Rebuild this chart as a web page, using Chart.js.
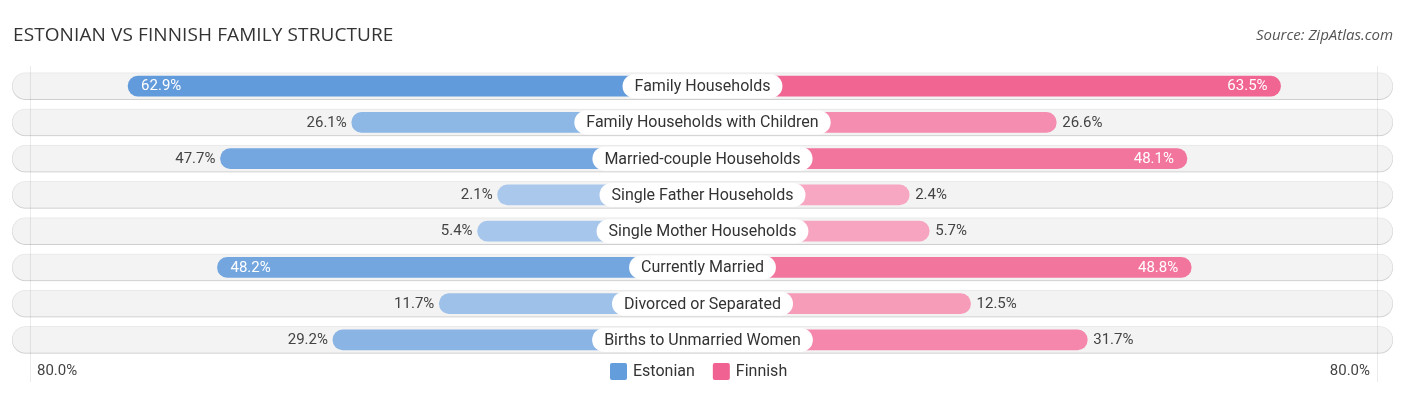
<!DOCTYPE html>
<html>
<head>
<meta charset="utf-8">
<script src="https://cdn.jsdelivr.net/npm/chart.js@4"></script>
<style>
  html, body { margin: 0; padding: 0; background: #fff; }
  #wrap { position: relative; width: 1406px; height: 395px; }
  #title { position: absolute; left: 13px; top: 21px; font: 19px "Open Sans", sans-serif; color: #333; letter-spacing: 0.1px; }
  #source { position: absolute; right: 13px; top: 24px; font: italic 15px "Open Sans", sans-serif; color: #555; }
  canvas { position: absolute; left: 0; top: 0; }
</style>
</head>
<body>
<div id="wrap">
  <canvas id="chart" width="1406" height="395"></canvas>
  <div id="title">ESTONIAN VS FINNISH FAMILY STRUCTURE</div>
  <div id="source">Source: ZipAtlas.com</div>
</div>
<script>
const categories = [
  'Family Households',
  'Family Households with Children',
  'Married-couple Households',
  'Single Father Households',
  'Single Mother Households',
  'Currently Married',
  'Divorced or Separated',
  'Births to Unmarried Women'
];
const estonian = [62.9, 26.1, 47.7, 2.1, 5.4, 48.2, 11.7, 29.2];
const finnish = [63.5, 26.6, 48.1, 2.4, 5.7, 48.8, 12.5, 31.7];
const axisMaxLabel = '80.0%';

// bars start behind the centre label, so every bar gets a fixed extra length
const offset = 31.6;
const range = 113.6;

function mix(a, b, t) {
  return 'rgb(' + a.map((c, i) => Math.round(c + (b[i] - c) * t)).join(',') + ')';
}
const blueLight = [172, 202, 236], blueStrong = [98, 155, 219];
const pinkLight = [247, 170, 195], pinkStrong = [241, 101, 147];
const estColors = estonian.map(v => mix(blueLight, blueStrong, Math.min(v / 63, 1)));
const finColors = finnish.map(v => mix(pinkLight, pinkStrong, Math.min(v / 63, 1)));

const trackShadow = {
  id: 'trackShadow',
  beforeDatasetDraw(chart, args) {
    if (args.index !== 0) return;
    const ctx = chart.ctx;
    ctx.save();
    ctx.shadowColor = 'rgba(0,0,0,0.22)';
    ctx.shadowBlur = 3;
    ctx.shadowOffsetY = 1;
  },
  afterDatasetDraw(chart, args) {
    if (args.index !== 0) return;
    chart.ctx.restore();
  }
};

const labelsPlugin = {
  id: 'labels',
  afterDatasetsDraw(chart) {
    const ctx = chart.ctx;
    const x = chart.scales.x;
    const y = chart.scales.y;
    const cx = x.getPixelForValue(0);
    ctx.save();

    // faint guide lines
    ctx.strokeStyle = 'rgba(0,0,0,0.08)';
    ctx.lineWidth = 1;
    [-(offset + 79), offset + 79.3].forEach(v => {
      const px = Math.round(x.getPixelForValue(v)) + 0.5;
      ctx.beginPath();
      ctx.moveTo(px, chart.chartArea.top - 2);
      ctx.lineTo(px, chart.chartArea.bottom + 24);
      ctx.stroke();
    });

    categories.forEach((cat, i) => {
      const py = y.getPixelForValue(i);

      // value labels
      ctx.font = '15px Roboto';
      ctx.textBaseline = 'middle';
      const e = estonian[i], f = finnish[i];
      const ex = x.getPixelForValue(-(offset + e));
      const fx = x.getPixelForValue(offset + f);
      if (e >= 48) {
        ctx.fillStyle = '#fff'; ctx.textAlign = 'left';
        ctx.fillText(e.toFixed(1) + '%', ex + 13, py + 0.5);
      } else {
        ctx.fillStyle = '#444'; ctx.textAlign = 'right';
        ctx.fillText(e.toFixed(1) + '%', ex - 5, py + 0.5);
      }
      if (f >= 48) {
        ctx.fillStyle = '#fff'; ctx.textAlign = 'right';
        ctx.fillText(f.toFixed(1) + '%', fx - 13, py + 0.5);
      } else {
        ctx.fillStyle = '#444'; ctx.textAlign = 'left';
        ctx.fillText(f.toFixed(1) + '%', fx + 6, py + 0.5);
      }

      // category pill
      ctx.font = '16px Roboto';
      const w = ctx.measureText(cat).width + 24;
      const h = 24;
      ctx.fillStyle = '#fff';
      ctx.beginPath();
      ctx.roundRect(cx - w / 2, py - h / 2, w, h, h / 2);
      ctx.fill();
      ctx.fillStyle = '#333';
      ctx.textAlign = 'center';
      ctx.fillText(cat, cx, py + 1);
    });

    // axis end labels
    const by = chart.chartArea.bottom + 13;
    ctx.font = '15px Roboto';
    ctx.fillStyle = '#444';
    ctx.textAlign = 'left';
    ctx.fillText(axisMaxLabel, 37, by);
    ctx.textAlign = 'right';
    ctx.fillText(axisMaxLabel, 1370, by);

    // legend
    const items = [['Estonian', 'rgb(99,157,220)'], ['Finnish', 'rgb(240,98,146)']];
    ctx.font = '16px Roboto';
    let lx = 610;
    items.forEach(([name, col]) => {
      ctx.fillStyle = col;
      ctx.beginPath();
      ctx.roundRect(lx, by - 8, 17, 17, 2);
      ctx.fill();
      ctx.fillStyle = '#333';
      ctx.textAlign = 'left';
      ctx.fillText(name, lx + 23, by + 1);
      lx += 23 + ctx.measureText(name).width + 18;
    });
    ctx.restore();
  }
};

new Chart(document.getElementById('chart'), {
  type: 'bar',
  data: {
    labels: categories,
    datasets: [
      {
        label: 'track',
        data: categories.map(() => [-range, range]),
        backgroundColor: '#f3f3f3',
        borderColor: 'rgba(0,0,0,0.06)',
        borderWidth: 1,
        borderSkipped: false,
        borderRadius: 14,
        barThickness: 27,
        grouped: false,
        order: 3
      },
      {
        label: 'Estonian',
        data: estonian.map(v => [-(offset + v), 0]),
        backgroundColor: estColors,
        borderSkipped: false,
        borderRadius: 10,
        barThickness: 20,
        grouped: false,
        order: 1
      },
      {
        label: 'Finnish',
        data: finnish.map(v => [0, offset + v]),
        backgroundColor: finColors,
        borderSkipped: false,
        borderRadius: 10,
        barThickness: 20,
        grouped: false,
        order: 1
      }
    ]
  },
  options: {
    indexAxis: 'y',
    responsive: false,
    animation: false,
    layout: { padding: { left: 12, right: 13, top: 68, bottom: 37 } },
    scales: {
      x: { display: false, min: -range, max: range },
      y: { display: false }
    },
    plugins: {
      legend: { display: false },
      tooltip: { enabled: false }
    }
  },
  plugins: [trackShadow, labelsPlugin]
});
</script>
</body>
</html>
